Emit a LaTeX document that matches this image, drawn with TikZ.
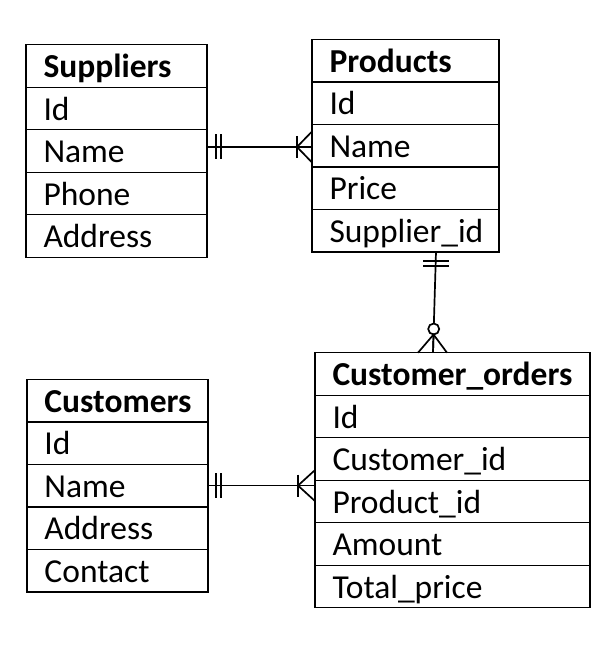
\documentclass[tikz,border=0pt]{standalone}
\usepackage{fontspec}
\setmainfont{Carlito}
\usetikzlibrary{calc}
\tikzset{
  fld/.style={draw, line width=1.4pt, anchor=north west, outer sep=0pt,
    minimum height=42.5pt, inner xsep=17.5pt, inner ysep=0pt,
    text height=33pt, text depth=9.5pt, align=left,
    font=\fontsize{33.5}{38}\selectfont},
  hdr/.style={fld, font=\fontsize{33.5}{38}\selectfont\bfseries},
  conn/.style={line width=1.7pt},
  mk/.style={line width=1.7pt},
}
\newcommand{\ertab}[6]{%
  \pgfmathsetmacro\tw{#4-35}%
  \node[hdr, minimum width=#4pt, text width=\tw pt] (#1-0) at (#2,#3) {#5};
  \foreach \f [count=\i] in {#6} {
    \pgfmathtruncatemacro\prv{\i-1}
    \node[fld, minimum width=#4pt, text width=\tw pt] (#1-\i) at (#1-\prv.south west) {\f};
  }%
}
\begin{document}
\begin{tikzpicture}[x=1pt,y=-1pt]
  \useasboundingbox (0,0) rectangle (613,665);
  \fill[white] (0,0) rectangle (613,665);

  \ertab{s}{26}{44.7}{181}{Suppliers}{Id,Name,Phone,Address}
  \ertab{p}{312}{39.3}{187}{Products}{Id,Name,Price,Supplier\_id}
  \ertab{cu}{27}{379.3}{181}{Customers}{Id,Name,Address,Contact}
  \ertab{co}{315}{352.7}{275}{Customer\_orders}{Id,Customer\_id,Product\_id,Amount,Total\_price}

  % Suppliers -- Products
  \coordinate (a1) at ($(s-2.east)+(0,-4)$);
  \coordinate (a2) at ($(s-2.east -| p-2.west)+(0,-4)$);
  \draw[conn] (a1) -- (a2);
  \draw[mk] ($(a1)+(9,-12.5)$) -- ($(a1)+(9,12.5)$);
  \draw[mk] ($(a1)+(14,-12.5)$) -- ($(a1)+(14,12.5)$);
  \draw[mk] ($(a2)+(-15,-11)$) -- ($(a2)+(-15,11)$);
  \draw[mk] ($(a2)+(0,-15.5)$) -- ($(a2)+(-15,0)$) -- ($(a2)+(0,15.5)$);

  % Customers -- Customer_orders
  \coordinate (b1) at (cu-2.east);
  \coordinate (b2) at (cu-2.east -| co-0.west);
  \draw[conn] (b1) -- (b2);
  \draw[mk] ($(b1)+(8,-12.5)$) -- ($(b1)+(8,12.5)$);
  \draw[mk] ($(b1)+(13,-12.5)$) -- ($(b1)+(13,12.5)$);
  \draw[mk] ($(b2)+(-17,-11)$) -- ($(b2)+(-17,11)$);
  \draw[mk] ($(b2)+(0,-15.5)$) -- ($(b2)+(-17,0)$) -- ($(b2)+(0,15.5)$);

  % Products -- Customer_orders
  \coordinate (c1) at ($(p-4.south)+(30.5,0)$);
  \coordinate (c2) at ($(co-0.north)+(-19.5,0)$);
  \draw[conn] (c1) -- (c2);
  \draw[mk] ($(c1)+(-13,9)$) -- ($(c1)+(13,9)$);
  \draw[mk] ($(c1)+(-13,14)$) -- ($(c1)+(13,14)$);
  \coordinate (cc) at ($(c2)!0.235!(c1)$);
  \coordinate (cf) at ($(c2)!0.18!(c1)$);
  \draw[mk, fill=white] (cc) circle[radius=5.5pt];
  \draw[mk] ($(c2)+(-15,0)$) -- (cf) -- ($(c2)+(14,0)$);
  \draw[mk] (cf) -- (c2);
\end{tikzpicture}
\end{document}
